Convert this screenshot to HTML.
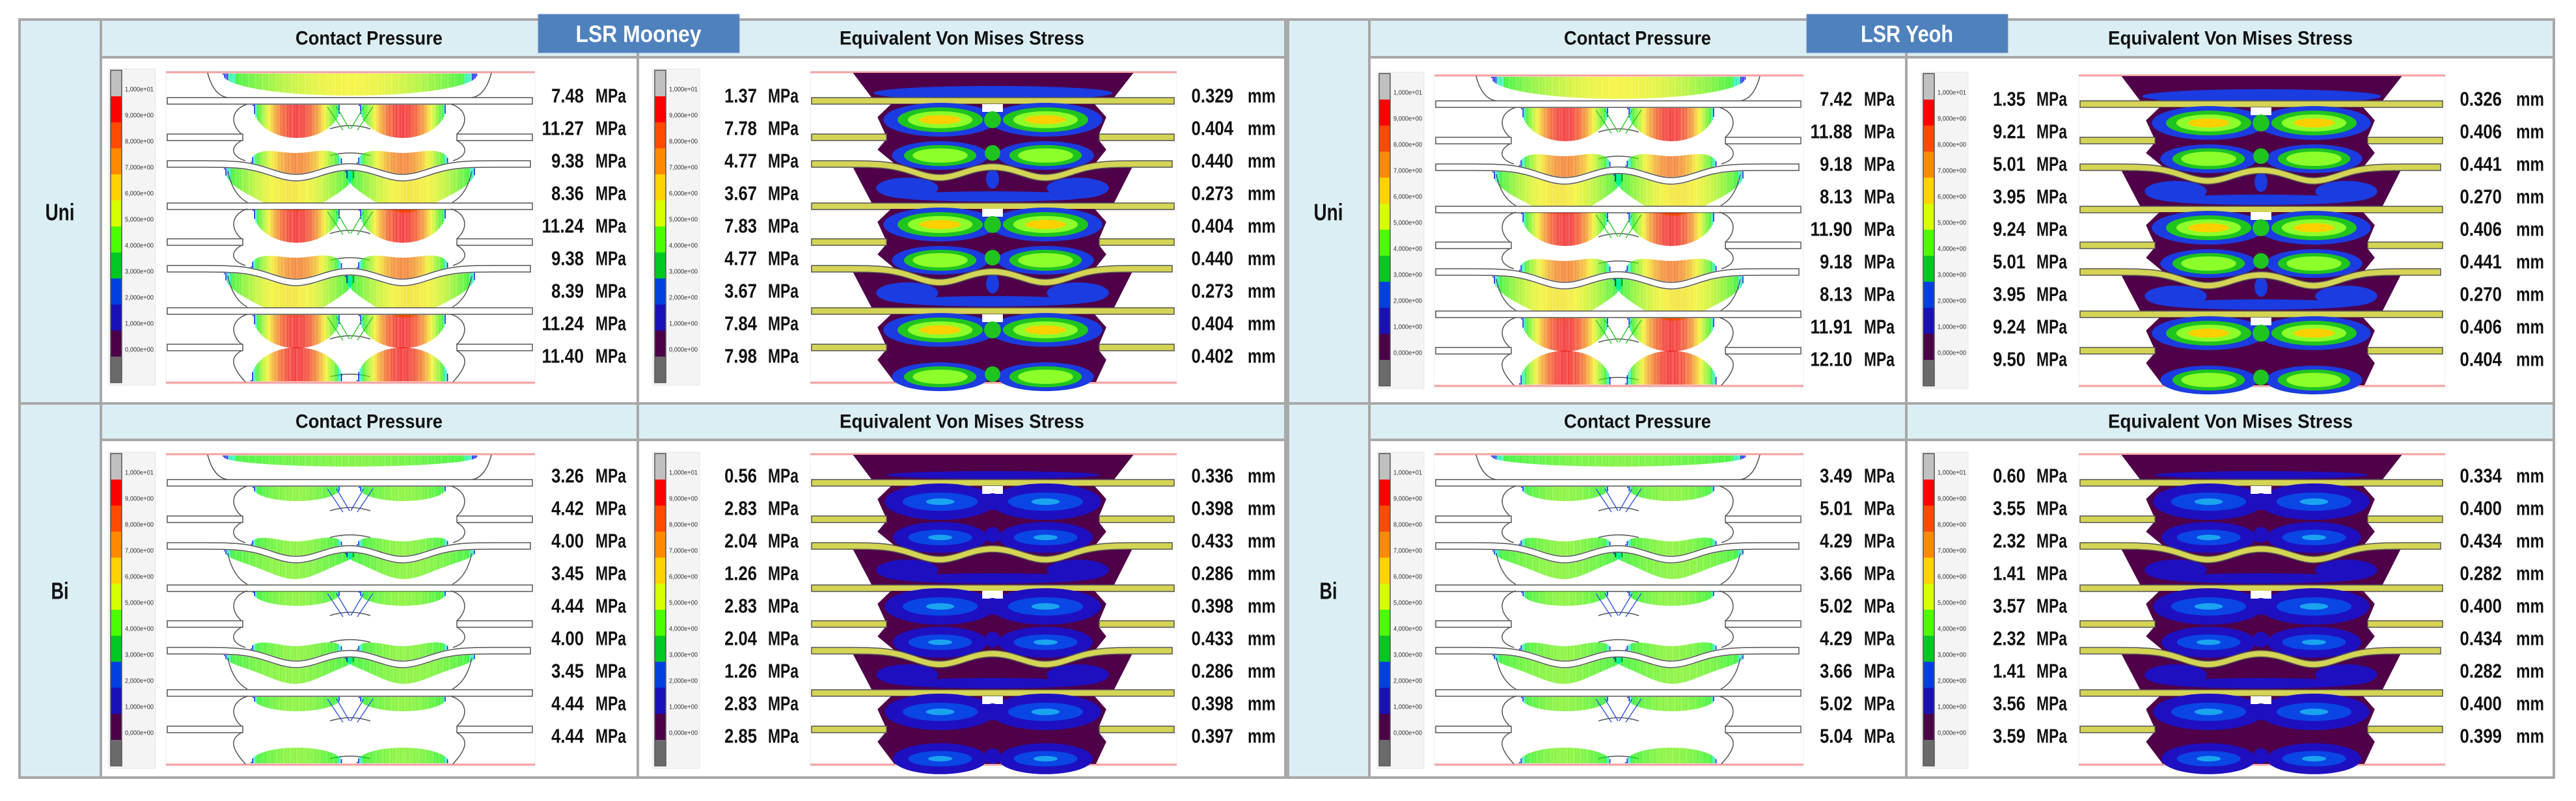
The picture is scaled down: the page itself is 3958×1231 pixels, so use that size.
<!DOCTYPE html>
<html><head><meta charset="utf-8"><title>LSR Mooney vs Yeoh contact pressure and von Mises stress</title>
<style>
html,body{margin:0;padding:0;background:#fff;}
#wrap{position:relative;width:3958px;height:1231px;overflow:hidden;}
svg text{font-family:"Liberation Sans Narrow","Liberation Sans",sans-serif;}
</style></head>
<body>
<div id="wrap">
<svg id="fig" width="3958" height="1231" viewBox="0 0 3958 1231" xmlns="http://www.w3.org/2000/svg"></svg>
</div>
<script>
// ---- data arrays ----
const groupTitles = ["LSR Mooney", "LSR Yeoh"];
const rowLabels = ["Uni", "Bi"];
const panelTitles = ["Contact Pressure", "Equivalent Von  Mises Stress"];
const legendTicks = ["1,000e+01","9,000e+00","8,000e+00","7,000e+00","6,000e+00","5,000e+00","4,000e+00","3,000e+00","2,000e+00","1,000e+00","0,000e+00"];
const legendColors = ["#c0c0c0","#ff0000","#ff4a00","#ff8a00","#ffd200","#d8ff00","#4cff00","#00c822","#0040e0","#1a10b8","#4b0048","#6a6a6a"];
const mooneyUniCP = ["7.48","11.27","9.38","8.36","11.24","9.38","8.39","11.24","11.40"];
const mooneyUniVM = ["1.37","7.78","4.77","3.67","7.83","4.77","3.67","7.84","7.98"];
const mooneyUniMM = ["0.329","0.404","0.440","0.273","0.404","0.440","0.273","0.404","0.402"];
const mooneyBiCP = ["3.26","4.42","4.00","3.45","4.44","4.00","3.45","4.44","4.44"];
const mooneyBiVM = ["0.56","2.83","2.04","1.26","2.83","2.04","1.26","2.83","2.85"];
const mooneyBiMM = ["0.336","0.398","0.433","0.286","0.398","0.433","0.286","0.398","0.397"];
const yeohUniCP = ["7.42","11.88","9.18","8.13","11.90","9.18","8.13","11.91","12.10"];
const yeohUniVM = ["1.35","9.21","5.01","3.95","9.24","5.01","3.95","9.24","9.50"];
const yeohUniMM = ["0.326","0.406","0.441","0.270","0.406","0.441","0.270","0.406","0.404"];
const yeohBiCP = ["3.49","5.01","4.29","3.66","5.02","4.29","3.66","5.02","5.04"];
const yeohBiVM = ["0.60","3.55","2.32","1.41","3.57","2.32","1.41","3.56","3.59"];
const yeohBiMM = ["0.334","0.400","0.434","0.282","0.400","0.434","0.282","0.400","0.399"];

const NS = "http://www.w3.org/2000/svg";
const svg = document.getElementById("fig");
function el(tag, attrs, parent, name, inter) {
  const e = document.createElementNS(NS, tag);
  for (const k in attrs) e.setAttribute(k, attrs[k]);
  
  
  parent.appendChild(e);
  return e;
}
function txt(parent, x, y, s, size, opts, name) {
  const t = el("text", {x: x, y: y, "font-size": size, "dominant-baseline": "central",
    "text-anchor": opts.anchor || "start", "font-weight": opts.weight || "bold", fill: opts.fill || "#111"}, parent, name, false);
  if (opts.family) t.setAttribute("style", "font-family:" + opts.family);
  if (opts.len) { t.setAttribute("textLength", opts.len); t.setAttribute("lengthAdjust", "spacingAndGlyphs"); }
  t.textContent = s;
  return t;
}
function numW(s, size) {
  let w = 0;
  for (const c of s) w += (c === "." ? 0.2 : 0.47) * size;
  return w.toFixed(1);
}
function dip(x) {
  return 21 * Math.exp(-Math.pow((x - 200) / 55, 2)) + 21 * Math.exp(-Math.pow((x - 364) / 55, 2));
}
function hueAt(hc, t) {
  if (t < 0.08) return 235;
  if (t < 0.18) return 160;
  return hc + (120 - hc) * (1 - (t - 0.18) / 0.82);
}
function fan(g, cx, yfun, hw, depth, dir, hc) {
  for (let x = cx - hw; x <= cx + hw; x += 2.2) {
    const u = (x - cx) / hw;
    const t = Math.max(0, 1 - u * u);
    const len = depth * Math.sqrt(t) + 2;
    const y0 = yfun(x);
    const h = hueAt(hc, t);
    el("line", {x1: x.toFixed(1), y1: y0.toFixed(1), x2: x.toFixed(1), y2: (y0 + dir * len).toFixed(1),
      stroke: "hsl(" + h.toFixed(0) + ",100%,47%)", "stroke-width": 1.5}, g, "pressure-arrow", false);
  }
}
function plateRect(g, y, fill, name) {
  el("rect", {x: 2, y: y, width: 561, height: 10, fill: fill, stroke: "#555", "stroke-width": 1.5}, g, name, false);
}
function tabs(g, y, fill) {
  el("rect", {x: 2, y: y, width: 116, height: 10, fill: fill, stroke: "#555", "stroke-width": 1.5}, g, "left-flange", false);
  el("rect", {x: 447, y: y, width: 116, height: 10, fill: fill, stroke: "#555", "stroke-width": 1.5}, g, "right-flange", false);
}
function curvedPlate(g, b, fill) {
  let top = [], bot = [];
  for (let x = 2; x <= 563; x += 6) { top.push(x + "," + (b + dip(x)).toFixed(1)); bot.unshift(x + "," + (b + 10 + dip(x)).toFixed(1)); }
  el("polygon", {points: top.concat(bot).join(" "), fill: fill, stroke: "#555", "stroke-width": 1.5}, g, "curved-plate", false);
}
function bodyPoly(y0, h, curveBottom) {
  let p = [[125, y0], [440, y0], [458, y0 + 20], [447, y0 + 46], [447, y0 + 56], [458, y0 + 70]];
  for (let x = 442; x >= 123; x -= 8) p.push([x, curveBottom ? y0 + h + dip(x) : y0 + h]);
  p.push([104, y0 + 70], [116, y0 + 56], [116, y0 + 46], [104, y0 + 20]);
  return p.map(q => q[0] + "," + q[1].toFixed(1)).join(" ");
}
function blobOutline(g, y0, h) {
  const d = "M125," + y0 + " C100," + (y0 + 8) + " 98," + (y0 + 30) + " 116," + (y0 + 46) +
    " M116," + (y0 + 56) + " C98," + (y0 + 66) + " 100," + (y0 + 80) + " 122," + (y0 + h) +
    " M438," + y0 + " C463," + (y0 + 8) + " 465," + (y0 + 30) + " 447," + (y0 + 46) +
    " M447," + (y0 + 56) + " C465," + (y0 + 66) + " 463," + (y0 + 80) + " 441," + (y0 + h) +
    " M252," + (y0 + 38) + " Q283," + (y0 + 28) + " 314," + (y0 + 38) +
    " M252," + (y0 + h - 8) + " Q283," + (y0 + h - 16) + " 314," + (y0 + h - 8);
  el("path", {d: d, fill: "none", stroke: "#555", "stroke-width": 1.5}, g, "seal-outline", false);
}
function necks(g, y0, col) {
  const d = "M248," + (y0 + 4) + " L272," + (y0 + 40) + " M318," + (y0 + 4) + " L294," + (y0 + 40) +
    " M262," + (y0 + 4) + " L282," + (y0 + 38) + " M304," + (y0 + 4) + " L284," + (y0 + 38);
  el("path", {d: d, fill: "none", stroke: col, "stroke-width": 1.4}, g, "neck-arrows", false);
}

function drawCP(parent, ox, oy, uni) {
  const g = el("g", {transform: "translate(" + ox + "," + oy + ")"}, parent, "contact-pressure-plot", false);
  el("rect", {x: 0, y: 0, width: 567, height: 480, fill: "#fff", stroke: "#eee"}, g, "plot-background", false);
  el("line", {x1: 0, y1: 1, x2: 567, y2: 1, stroke: "#f5a0a0", "stroke-width": 3}, g, "top-boundary", false);
  el("line", {x1: 0, y1: 478, x2: 567, y2: 478, stroke: "#f5a0a0", "stroke-width": 3}, g, "bottom-boundary", false);
  const P = uni ? {top: [60, 32], ad: [0, 49], au: [25, 30], bd: [55, 46], bu: [0, 50]} :
                  {top: [100, 15], ad: [95, 20], au: [95, 20], bd: [95, 22], bu: [95, 22]};
  fan(g, 283, x => 3, 195, P.top[1], 1, P.top[0]);
  el("path", {d: "M64,2 C70,25 80,38 95,40 M500,2 C494,25 484,38 470,40", fill: "none", stroke: "#555", "stroke-width": 1.5}, g, "top-seal-outline", false);
  plateRect(g, 40, "#fff", "top-plate");
  [50, 211].forEach(y0 => {
    blobOutline(g, y0, 87);
    fan(g, 201, x => y0 + 1, 67, P.ad[1], 1, P.ad[0]);
    fan(g, 364, x => y0 + 1, 67, P.ad[1], 1, P.ad[0]);
    tabs(g, y0 + 46, "#fff");
    const b = y0 + 87;
    fan(g, 201, x => b + dip(x) - 1, 70, P.au[1], -1, P.au[0]);
    fan(g, 364, x => b + dip(x) - 1, 70, P.au[1], -1, P.au[0]);
    necks(g, y0, uni ? "#2ec92e" : "#3355dd");
    curvedPlate(g, b, "#fff");
    fan(g, 190, x => b + 11 + dip(x), 100, P.bd[1], 1, P.bd[0]);
    fan(g, 376, x => b + 11 + dip(x), 100, P.bd[1], 1, P.bd[0]);
    el("path", {d: "M95," + (b + 16) + " C100," + (b + 40) + " 110," + (b + 56) + " 125," + (y0 + 151) +
      " M470," + (b + 16) + " C465," + (b + 40) + " 455," + (b + 56) + " 440," + (y0 + 151),
      fill: "none", stroke: "#555", "stroke-width": 1.5}, g, "cup-outline", false);
    plateRect(g, y0 + 152, "#fff", "flat-plate");
  });
  const y0 = 373;
  blobOutline(g, y0, 104);
  fan(g, 201, x => y0 + 1, 67, P.ad[1], 1, P.ad[0]);
  fan(g, 364, x => y0 + 1, 67, P.ad[1], 1, P.ad[0]);
  tabs(g, y0 + 46, "#fff");
  fan(g, 201, x => 476, 70, P.bu[1], -1, P.bu[0]);
  fan(g, 364, x => 476, 70, P.bu[1], -1, P.bu[0]);
  necks(g, y0, uni ? "#2ec92e" : "#3355dd");
  return g;
}

const PUR = "#4f0048";
function lobes(g, cx, cy, uni, big) {
  const s = big ? 1 : 0.85;
  if (uni) {
    el("ellipse", {cx: cx, cy: cy, rx: 88 * s, ry: 26 * s, fill: "#1b3ce0"}, g, "stress-zone-blue", false);
    el("ellipse", {cx: cx, cy: cy, rx: 66 * s, ry: 19 * s, fill: "#1fc41f"}, g, "stress-zone-green", false);
    el("ellipse", {cx: cx, cy: cy, rx: 50 * s, ry: 13 * s, fill: "#8cff2a"}, g, "stress-zone-lightgreen", false);
    if (big) el("ellipse", {cx: cx, cy: cy, rx: 32, ry: 7, fill: "#ffd000"}, g, "stress-zone-yellow", false);
  } else {
    el("ellipse", {cx: cx, cy: cy, rx: 86 * s, ry: 28 * s, fill: "#1e10c0"}, g, "stress-zone-indigo", false);
    el("ellipse", {cx: cx, cy: cy, rx: 58 * s, ry: 14 * s, fill: "#0a46e6"}, g, "stress-zone-blue", false);
    el("ellipse", {cx: cx, cy: cy, rx: 22 * s, ry: 5 * s, fill: "#1aa4f0"}, g, "stress-zone-lightblue", false);
  }
}
function drawVM(parent, ox, oy, uni) {
  const g = el("g", {transform: "translate(" + ox + "," + oy + ") scale(0.993,1)"}, parent, "von-mises-plot", false);
  el("rect", {x: 0, y: 0, width: 567, height: 480, fill: "#fff", stroke: "#eee"}, g, "plot-background", false);
  el("line", {x1: 0, y1: 1, x2: 567, y2: 1, stroke: "#f5a0a0", "stroke-width": 3}, g, "top-boundary", false);
  el("line", {x1: 0, y1: 478, x2: 567, y2: 478, stroke: "#f5a0a0", "stroke-width": 3}, g, "bottom-boundary", false);
  const YEL = "#d4d455";
  el("polygon", {points: "66,2 500,2 470,40 95,40", fill: PUR}, g, "top-cup-body", false);
  el("ellipse", {cx: 283, cy: 33, rx: uni ? 185 : 165, ry: uni ? 11 : 6, fill: uni ? "#1b3ce0" : "#1e10c0"}, g, "top-cup-zone", false);
  plateRect(g, 40, YEL, "top-plate");
  const blockA = (y0, h, curve) => {
    el("polygon", {points: bodyPoly(y0, h, curve), fill: PUR}, g, "seal-body", false);
    lobes(g, 201, y0 + 24, uni, true); lobes(g, 364, y0 + 24, uni, true);
    lobes(g, 201, y0 + h - 8, uni, false); lobes(g, 364, y0 + h - 8, uni, false);
    el("rect", {x: 266, y: y0, width: 32, height: 12, fill: "#fff"}, g, "neck-gap", false);
    el("circle", {cx: 282, cy: y0 + 24, r: 13, fill: uni ? "#1fc41f" : "#1e10c0"}, g, "neck-zone", false);
    el("circle", {cx: 282, cy: y0 + h - 12, r: 12, fill: uni ? "#1fc41f" : "#1e10c0"}, g, "neck-zone", false);
    tabs(g, y0 + 46, YEL);
  };
  [50, 211].forEach(y0 => {
    blockA(y0, 87, true);
    const b = y0 + 87;
    let pts = [];
    for (let x = 66; x <= 498; x += 8) pts.push(x + "," + (b + 10 + dip(x)).toFixed(1));
    pts.push("470," + (y0 + 152), "95," + (y0 + 152));
    el("polygon", {points: pts.join(" "), fill: PUR}, g, "cup-body", false);
    const bc = uni ? "#1b3ce0" : "#1e10c0";
    el("ellipse", {cx: 150, cy: b + 42, rx: 48, ry: 16, fill: bc}, g, "cup-zone", false);
    el("ellipse", {cx: 414, cy: b + 42, rx: 48, ry: 16, fill: bc}, g, "cup-zone", false);
    el("ellipse", {cx: 282, cy: b + 55, rx: 150, ry: 8, fill: bc}, g, "cup-zone", false);
    if (uni) el("ellipse", {cx: 282, cy: b + 28, rx: 10, ry: 15, fill: "#1b3ce0"}, g, "cup-center-zone", false);
    curvedPlate(g, b, YEL);
    plateRect(g, y0 + 152, YEL, "flat-plate");
  });
  blockA(373, 104, false);
  return g;
}

function drawLegend(parent, x, y) {
  const g = el("g", {}, parent, "color-legend", false);
  el("rect", {x: x - 3, y: y - 2, width: 72, height: 486, fill: "#f4f4f4", stroke: "#e6e6e6"}, g, "legend-background", false);
  legendColors.forEach((c, i) => {
    el("rect", {x: x, y: y + i * 40, width: 17, height: 40, fill: c}, g, "legend-swatch", false);
  });
  el("rect", {x: x, y: y, width: 17, height: 480, fill: "none", stroke: "#555", "stroke-width": 1.5}, g, "legend-bar-border", false);
  legendTicks.forEach((s, i) => {
    txt(g, x + 22, y + 40 * (i + 1) - 10, s, 10, {weight: "normal", fill: "#333", len: 44}, "legend-tick-label");
  });
}
function valueColumn(parent, xNumRight, xUnit, y, vals, unit, name) {
  vals.forEach((v, i) => {
    txt(parent, xNumRight, y + 50 * i, v, 31, {anchor: "end", len: numW(v, 31)}, name + "-value");
    txt(parent, xUnit, y + 50 * i, unit, 31, {len: unit === "MPa" ? 47 : 43}, name + "-unit");
  });
}

const data = [
  [[mooneyUniCP, mooneyUniVM, mooneyUniMM], [mooneyBiCP, mooneyBiVM, mooneyBiMM]],
  [[yeohUniCP, yeohUniVM, yeohUniMM], [yeohBiCP, yeohBiVM, yeohBiMM]]
];

[0, 1].forEach(gi => {
  const gx = gi * 1949;
  const G = el("g", {}, svg, gi === 0 ? "mooney-group" : "yeoh-group", false);
  el("rect", {x: 30 + gx, y: 30, width: 1945, height: 1165, fill: "#fff", stroke: "#a8a8a8", "stroke-width": 4}, G, "group-frame", false);
  el("rect", {x: 30 + gx, y: 30, width: 125, height: 590, fill: "#dbeef3"}, G, "row-label-cell", false);
  el("rect", {x: 30 + gx, y: 620, width: 125, height: 575, fill: "#dbeef3"}, G, "row-label-cell", false);
  [30, 620].forEach(hy => {
    el("rect", {x: 155 + gx, y: hy, width: 1820, height: hy === 30 ? 58 : 56, fill: "#dbeef3"}, G, "header-cell", false);
  });
  const L = [[30, 620, 1975, 620], [155, 88, 1975, 88], [155, 676, 1975, 676], [155, 30, 155, 1195], [980, 30, 980, 1195]];
  L.forEach(l => el("line", {x1: l[0] + gx, y1: l[1], x2: l[2] + gx, y2: l[3], stroke: "#a8a8a8", "stroke-width": 4}, G, "grid-line", false));
  el("rect", {x: 30 + gx, y: 30, width: 1945, height: 1165, fill: "none", stroke: "#a8a8a8", "stroke-width": 4}, G, "group-border", false);
  [59, 648].forEach(hy => {
    txt(G, 567 + gx, hy, panelTitles[0], 30, {anchor: "middle", len: 226}, "contact-pressure-title");
    txt(G, 1478 + gx, hy, panelTitles[1], 30, {anchor: "middle", len: 376}, "von-mises-title");
  });
  txt(G, 92 + gx, 326, rowLabels[0], 36, {anchor: "middle", len: 45}, "row-label-uni");
  txt(G, 92 + gx, 908, rowLabels[1], 36, {anchor: "middle", len: 27}, "row-label-bi");
  el("rect", {x: 827 + gx, y: 22, width: 309, height: 59, fill: "#4f81bd", stroke: "#6f93c4"}, G, "model-title-box", false);
  txt(G, 981 + gx, 52, groupTitles[gi], 36, {anchor: "middle", fill: "#fff", family: '"Liberation Sans",sans-serif', len: gi === 0 ? 193 : 142}, "model-title");
  [0, 1].forEach(ri => {
    const dy = (ri === 0 && gi === 1) ? 5 : 0;
    const py = (ri === 0 ? 110 : 697) + dy;
    const ly = (ri === 0 ? 108 : 697) + dy;
    const vy = (ri === 0 ? 147 : 731) + dy;
    const uni = ri === 0;
    drawLegend(G, 170 + gx, ly);
    drawCP(G, 255 + gx, py, uni);
    drawLegend(G, 1006 + gx, ly);
    drawVM(G, 1245 + gx, py, uni);
    const d = data[gi][ri];
    valueColumn(G, 897 + gx, 915 + gx, vy, d[0], "MPa", "contact-pressure");
    valueColumn(G, 1163 + gx, 1180 + gx, vy, d[1], "MPa", "von-mises");
    valueColumn(G, 1895 + gx, 1917 + gx, vy, d[2], "mm", "displacement");
  });
});
</script>
</body></html>
